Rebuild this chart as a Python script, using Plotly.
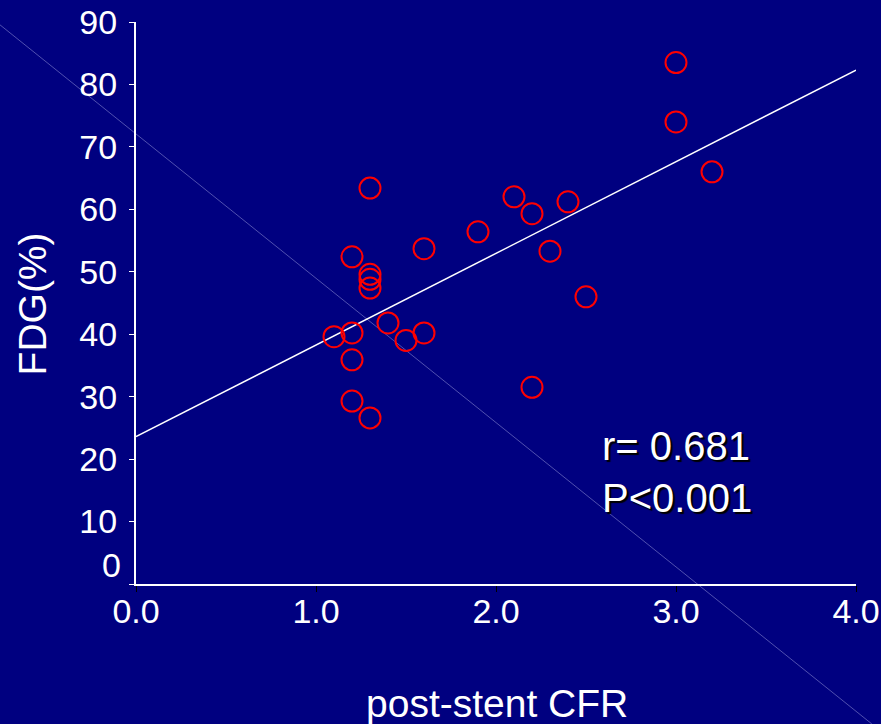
import plotly.graph_objects as go

# Post-stent coronary flow reserve vs FDG uptake, one point per patient
cfr = [3.0, 3.0, 3.2, 1.3, 2.1, 2.2, 2.4, 1.9, 1.6, 2.3, 1.2, 1.3,
       1.3, 1.3, 2.5, 1.4, 1.1, 1.2, 1.6, 1.5, 1.2, 2.2, 1.2, 1.3]
fdg = [83.5, 74.0, 66.0, 63.4, 62.0, 59.3, 61.2, 56.4, 53.7, 53.3, 52.4, 49.6,
       48.8, 47.4, 46.0, 41.8, 39.6, 40.2, 40.2, 39.0, 35.9, 31.5, 29.3, 26.6]

# Regression line end points
fit_x = [0.0, 4.0]
fit_y = [23.6, 82.3]

y_ticks = [0, 10, 20, 30, 40, 50, 60, 70, 80, 90]
x_ticks = [0.0, 1.0, 2.0, 3.0, 4.0]

r_text = "r= 0.681"
p_text = "P<0.001"

FONT = "Arial, Liberation Sans, sans-serif"
NAVY = "#000080"

fig = go.Figure()

fig.add_trace(go.Scatter(
    x=fit_x, y=fit_y, mode="lines",
    line=dict(color="white", width=1.5),
    hoverinfo="skip", showlegend=False,
))

fig.add_trace(go.Scatter(
    x=cfr, y=fdg, mode="markers",
    marker=dict(symbol="circle-open", size=21, color="#ff0000",
                line=dict(color="#ff0000", width=2)),
    showlegend=False, cliponaxis=False,
))

fig.update_layout(
    width=881, height=724,
    margin=dict(l=136, r=25, t=22, b=140),
    paper_bgcolor=NAVY, plot_bgcolor=NAVY,
    font=dict(family=FONT, color="white", size=34),
    showlegend=False,
)

fig.update_xaxes(
    range=[0, 4], tickvals=x_ticks, ticktext=[f"{v:.1f}" for v in x_ticks],
    showgrid=False, zeroline=False, automargin=False,
    showline=True, linecolor="white", linewidth=2,
    ticks="outside", ticklen=6, tickcolor="black", tickwidth=1,
    tickfont=dict(size=34, color="white"), ticklabelstandoff=-10,
)

fig.update_yaxes(
    range=[0, 90], tickvals=y_ticks,
    ticktext=["" if v == 0 else str(v) for v in y_ticks],
    showgrid=False, zeroline=False, automargin=False,
    showline=True, linecolor="white", linewidth=2,
    ticks="outside", ticklen=5, tickcolor="white", tickwidth=1,
    tickfont=dict(size=34, color="white"), ticklabelstandoff=5,
)

# Thin diagonal stroke running across the whole slide
fig.add_shape(
    type="line", xref="paper", yref="paper",
    x0=-0.189, y0=0.995, x1=1.022, y1=-0.249,
    line=dict(color="rgba(190,190,240,0.42)", width=1),
    layer="below",
)

annotations = [
    # zero label sits a little above the x axis
    dict(text="0", xref="paper", yref="y", x=-0.018, y=3.0,
         xanchor="right", yanchor="middle", showarrow=False,
         font=dict(size=34, color="white")),
    dict(text="FDG(%)", xref="paper", yref="paper", x=-0.144, y=0.498,
         textangle=-90, xanchor="center", yanchor="middle", showarrow=False,
         font=dict(size=39, color="white")),
    dict(text="post-stent CFR", xref="paper", yref="paper", x=0.501, y=-0.212,
         xanchor="center", yanchor="middle", showarrow=False,
         font=dict(size=39, color="white")),
    dict(text=f"{r_text}<br>{p_text}", xref="x", yref="y", x=2.575, y=17.9,
         xanchor="left", yanchor="middle", align="left", showarrow=False,
         font=dict(size=40, color="white", shadow="2px 2px 1px #000000")),
]
fig.update_layout(annotations=annotations)

fig.write_html("out.html")
